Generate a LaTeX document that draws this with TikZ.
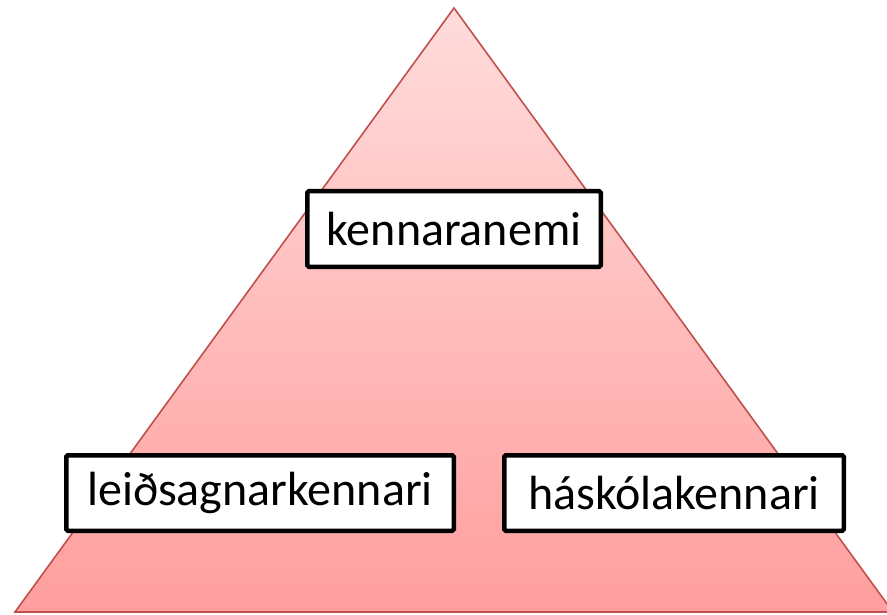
\documentclass[tikz,border=0pt]{standalone}
\usepackage{fontspec}
\setmainfont{Carlito}
\begin{document}
\begin{tikzpicture}[x=1pt,y=-1pt,
  box/.style={draw=black, line width=4.5pt, rounded corners=1.5pt, fill=white,
    inner sep=0pt, minimum height=75.5pt, font=\fontsize{48}{52}\selectfont}]
\definecolor{pyrtop}{HTML}{FFDCDC}
\definecolor{pyrbot}{HTML}{FF9E9E}
\definecolor{pyredge}{HTML}{C0504D}
\useasboundingbox (0,0) rectangle (887,615);
\clip (0,0) rectangle (887,615);
\path[top color=pyrtop, bottom color=pyrbot] (454,8) -- (15,612) -- (893,612) -- cycle;
\draw[pyredge, line width=1.6pt, line join=miter] (454,8) -- (15,612) -- (893,612) -- cycle;
\node[box, minimum width=293.5pt] (top) at (454,229) {kennaranemi};
\node[box, minimum width=387.5pt] (left) at (260,493) {leiðsagnarkennari\hspace{4pt}};
\node[box, minimum width=339.5pt] (right) at (674,493) {háskólakennari\hspace{12pt}};
\end{tikzpicture}
\end{document}
